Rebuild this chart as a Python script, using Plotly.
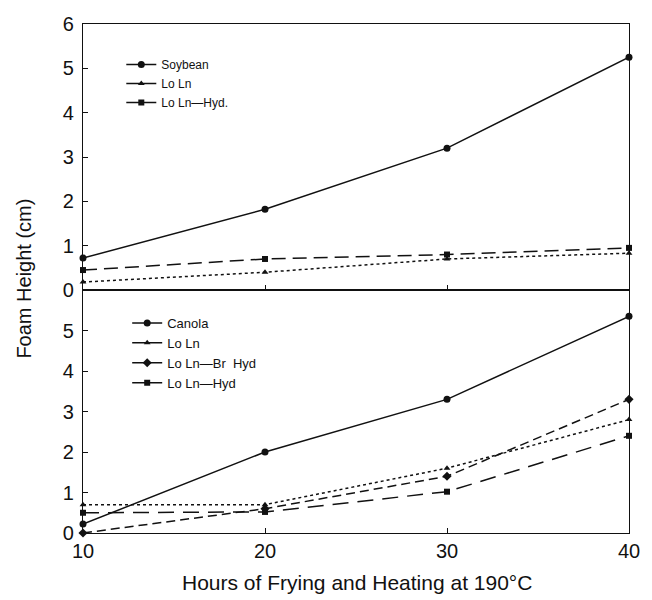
import plotly.graph_objects as go

hours = [10, 20, 30, 40]

# Top panel (Soybean group)
soybean = [0.72, 1.82, 3.2, 5.25]
soy_loln = [0.18, 0.4, 0.7, 0.83]
soy_loln_hyd = [0.45, 0.7, 0.8, 0.95]

# Bottom panel (Canola group)
canola = [0.22, 2.0, 3.3, 5.35]
can_loln = [0.7, 0.7, 1.6, 2.8]
can_loln_brhyd = [0.0, 0.6, 1.4, 3.3]
can_loln_hyd = [0.5, 0.52, 1.02, 2.4]

top_names = ["Soybean", "Lo Ln", "Lo Ln\u2014Hyd."]
bot_names = ["Canola", "Lo Ln", "Lo Ln\u2014Br  Hyd", "Lo Ln\u2014Hyd"]

y_ticks_top = [0, 1, 2, 3, 4, 5, 6]
y_ticks_bot = [0, 1, 2, 3, 4, 5]
x_ticks = [10, 20, 30, 40]

FONT = "Liberation Sans, Arial, sans-serif"
BLACK = "#111111"

fig = go.Figure()

def add(x, y, name, symbol, dash, xa, ya, legend, msize=7):
    fig.add_trace(go.Scatter(
        x=x, y=y, mode="lines+markers", name=name, showlegend=False,
        line=dict(color=BLACK, width=1.5, dash=dash),
        marker=dict(symbol=symbol, size=msize, color=BLACK),
        xaxis=xa, yaxis=ya, cliponaxis=False))
    # legend sample (solid, as in the original figure)
    fig.add_trace(go.Scatter(
        x=[None], y=[None], mode="lines+markers", name=name, showlegend=True,
        legend=legend,
        line=dict(color=BLACK, width=1.5),
        marker=dict(symbol=symbol, size=msize, color=BLACK),
        xaxis=xa, yaxis=ya))

# top panel
add(hours, soybean, top_names[0], "circle", "solid", "x2", "y2", "legend")
add(hours, soy_loln, top_names[1], "triangle-up", "dot", "x2", "y2", "legend", 6)
add(hours, soy_loln_hyd, top_names[2], "square", "14px,7px", "x2", "y2", "legend", 6)

# bottom panel
add(hours, canola, bot_names[0], "circle", "solid", "x", "y", "legend2")
add(hours, can_loln, bot_names[1], "triangle-up", "dot", "x", "y", "legend2", 6)
add(hours, can_loln_brhyd, bot_names[2], "diamond", "9px,5px", "x", "y", "legend2", 7)
add(hours, can_loln_hyd, bot_names[3], "square", "16px,9px", "x", "y", "legend2", 6)

split = 243 / 509

axis_common = dict(showline=True, mirror=True, linecolor=BLACK, linewidth=1.3,
                   ticks="inside", ticklen=5, tickcolor=BLACK, showgrid=False,
                   zeroline=False, tickfont=dict(family=FONT, size=20, color=BLACK))

fig.update_layout(
    width=652, height=600,
    margin=dict(l=83, r=13, t=24, b=67),
    paper_bgcolor="white", plot_bgcolor="white",
    font=dict(family=FONT, color=BLACK),
    xaxis=dict(domain=[0, 1], range=[10, 40], tickvals=x_ticks,
               anchor="y", **axis_common),
    yaxis=dict(domain=[0, split], range=[0, 6], tickvals=y_ticks_bot,
               anchor="x", ticklabelstandoff=4, **axis_common),
    xaxis2=dict(domain=[0, 1], range=[10, 40], tickvals=x_ticks,
                showticklabels=False, anchor="y2", matches="x", **axis_common),
    yaxis2=dict(domain=[split, 1], range=[0, 6], tickvals=y_ticks_top,
                anchor="x2", ticklabelstandoff=4, **axis_common),
    legend=dict(x=(122 - 83) / 556, y=(533 - 50) / 509, xanchor="left", yanchor="top",
                bgcolor="rgba(0,0,0,0)", font=dict(family=FONT, size=12, color=BLACK),
                itemwidth=30, tracegroupgap=0),
    legend2=dict(x=(128 - 83) / 556, y=(533 - 308) / 509, xanchor="left", yanchor="top",
                 bgcolor="rgba(0,0,0,0)", font=dict(family=FONT, size=13, color=BLACK),
                 itemwidth=30, tracegroupgap=0),
    annotations=[
        dict(text="Foam Height (cm)", x=(22 - 83) / 556, y=0.5, xref="paper", yref="paper",
             xanchor="center", yanchor="middle", textangle=-90, showarrow=False,
             font=dict(family=FONT, size=20, color=BLACK)),
        dict(text="Hours of Frying and Heating at 190\u00b0C", x=(362 - 83) / 556,
             y=(533 - 582) / 509,
             xref="paper", yref="paper", xanchor="center", yanchor="middle",
             showarrow=False, font=dict(family=FONT, size=21, color=BLACK)),
    ],
)

fig.write_html("out.html")
